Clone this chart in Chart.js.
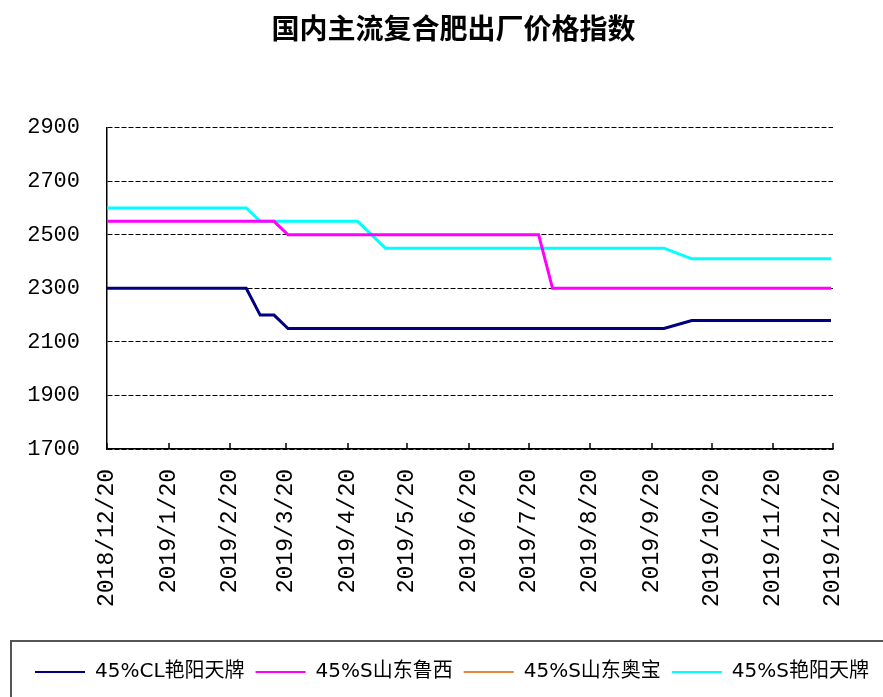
<!DOCTYPE html>
<html lang="zh">
<head>
<meta charset="UTF-8">
<title>国内主流复合肥出厂价格指数</title>
<script src="https://cdn.jsdelivr.net/npm/chart.js"></script>
<style>
    body { margin: 0; background: #fff; }
    .wrap { position: relative; width: 883px; height: 697px; overflow: hidden; }
    .legend-frame { position: absolute; left: 10px; top: 640px; width: 900px; height: 100px; border: 2px solid #555; }
    #priceChart { position: absolute; left: 0; top: 0; }
</style>
</head>
<body>
<div class="wrap">
    <div class="legend-frame"></div>
    <canvas id="priceChart" width="883" height="697"></canvas>
</div>
<script>
    // weekly quotes (holiday weeks missing)
    const dates = [
        '2018-12-20', '2018-12-27', '2019-01-03', '2019-01-10', '2019-01-17', '2019-01-24', '2019-01-31',
        '2019-02-07', '2019-02-14', '2019-02-21', '2019-02-28', '2019-03-07', '2019-03-14', '2019-03-21',
        '2019-03-28', '2019-04-04', '2019-04-11', '2019-04-18', '2019-04-25', '2019-05-09', '2019-05-16',
        '2019-05-23', '2019-05-30', '2019-06-06', '2019-06-13', '2019-06-20', '2019-06-27', '2019-07-04',
        '2019-07-11', '2019-07-18', '2019-07-25', '2019-08-01', '2019-08-08', '2019-08-15', '2019-08-22',
        '2019-08-29', '2019-09-05', '2019-09-12', '2019-09-19', '2019-09-26', '2019-10-10', '2019-10-17',
        '2019-10-24', '2019-10-31', '2019-11-07', '2019-11-14', '2019-11-21', '2019-11-28', '2019-12-05',
        '2019-12-12', '2019-12-19'
    ];

    const clYanyang = [
        2300, 2300, 2300, 2300, 2300, 2300, 2300, 2300, 2300, 2300, 2300,
        2200, 2200,
        2150, 2150, 2150, 2150, 2150, 2150,
        2150, 2150, 2150, 2150, 2150, 2150, 2150, 2150, 2150, 2150, 2150, 2150,
        2150, 2150, 2150, 2150, 2150, 2150, 2150, 2150, 2150,
        2180, 2180, 2180, 2180, 2180, 2180, 2180, 2180, 2180, 2180, 2180
    ];
    const sLuxi = [
        2550, 2550, 2550, 2550, 2550, 2550, 2550, 2550, 2550, 2550, 2550,
        2550, 2550,
        2500, 2500, 2500, 2500, 2500, 2500,
        2500, 2500, 2500, 2500, 2500, 2500, 2500, 2500, 2500, 2500, 2500, 2500,
        2300, 2300, 2300, 2300, 2300, 2300, 2300, 2300, 2300,
        2300, 2300, 2300, 2300, 2300, 2300, 2300, 2300, 2300, 2300, 2300
    ];
    const sAobao = [];   // no quotes shown
    const sYanyang = [
        2600, 2600, 2600, 2600, 2600, 2600, 2600, 2600, 2600, 2600, 2600,
        2550, 2550,
        2550, 2550, 2550, 2550, 2550, 2550,
        2450, 2450, 2450, 2450, 2450, 2450, 2450, 2450, 2450, 2450, 2450, 2450,
        2450, 2450, 2450, 2450, 2450, 2450, 2450, 2450, 2450,
        2410, 2410, 2410, 2410, 2410, 2410, 2410, 2410, 2410, 2410, 2410
    ];

    const tickLabels = [
        '2018/12/20', '2019/1/20', '2019/2/20', '2019/3/20', '2019/4/20', '2019/5/20', '2019/6/20',
        '2019/7/20', '2019/8/20', '2019/9/20', '2019/10/20', '2019/11/20', '2019/12/20'
    ];
    const yTicks = [1700, 1900, 2100, 2300, 2500, 2700, 2900];

    // day offset from the first date
    const start = Date.UTC(2018, 11, 20);
    function toDay(s) {
        const p = s.split(/[-\/]/).map(Number);
        return (Date.UTC(p[0], p[1] - 1, p[2]) - start) / 86400000;
    }
    const tickDays = tickLabels.map(toDay);

    function series(values) {
        return values.map((v, i) => ({ x: toDay(dates[i]), y: v }));
    }

    const monoFont = '"Liberation Mono", "DejaVu Sans Mono", monospace';
    const cjkFont = '"DejaVu Sans", "Noto Sans CJK SC", sans-serif';

    // short inner tick marks on the x axis
    const innerTicks = {
        id: 'innerTicks',
        afterDraw(chart) {
            const ctx = chart.ctx;
            const x = chart.scales.x;
            const bottom = chart.chartArea.bottom;
            ctx.save();
            ctx.strokeStyle = '#000';
            ctx.lineWidth = 1.5;
            tickDays.forEach(d => {
                const px = Math.round(x.getPixelForValue(d));
                ctx.beginPath();
                ctx.moveTo(px, bottom);
                ctx.lineTo(px, bottom - 6);
                ctx.stroke();
            });
            ctx.restore();
        }
    };

    new Chart(document.getElementById('priceChart'), {
        type: 'line',
        data: {
            datasets: [
                { label: '45%CL艳阳天牌', data: series(clYanyang), borderColor: '#000080', backgroundColor: '#000080' },
                { label: '45%S山东鲁西', data: series(sLuxi), borderColor: '#FF00FF', backgroundColor: '#FF00FF' },
                { label: '45%S山东奥宝', data: series(sAobao), borderColor: '#E8843C', backgroundColor: '#E8843C' },
                { label: '45%S艳阳天牌', data: series(sYanyang), borderColor: '#00FFFF', backgroundColor: '#00FFFF' }
            ]
        },
        options: {
            responsive: false,
            animation: false,
            layout: { padding: { left: 24, right: 0, top: 0, bottom: 5 } },
            elements: {
                line: { borderWidth: 3, tension: 0 },
                point: { radius: 0 }
            },
            plugins: {
                title: {
                    display: true,
                    text: '国内主流复合肥出厂价格指数',
                    color: '#000',
                    font: { family: '"Noto Sans CJK SC", sans-serif', size: 28, weight: 'bold' },
                    padding: { top: 12, bottom: 82 }
                },
                legend: {
                    position: 'bottom',
                    align: 'start',
                    labels: {
                        color: '#000',
                        font: { family: cjkFont, size: 20 },
                        usePointStyle: true,
                        pointStyle: 'line',
                        pointStyleWidth: 50,
                        padding: 11,
                        generateLabels: chart => Chart.defaults.plugins.legend.labels.generateLabels(chart)
                            .map(item => Object.assign(item, { lineWidth: 2 }))
                    }
                },
                tooltip: { enabled: false }
            },
            scales: {
                x: {
                    type: 'linear',
                    min: 0,
                    max: 365,
                    afterBuildTicks: scale => { scale.ticks = tickDays.map(v => ({ value: v })); },
                    afterFit: scale => { scale.height = 202; },
                    grid: { display: false, drawTicks: false },
                    border: { display: true, color: '#000', width: 1.5 },
                    ticks: {
                        color: '#000',
                        font: { family: monoFont, size: 23 },
                        minRotation: 90,
                        maxRotation: 90,
                        padding: 20,
                        autoSkip: false,
                        callback: (v, i) => tickLabels[i]
                    }
                },
                y: {
                    min: 1700,
                    max: 2900,
                    afterBuildTicks: scale => { scale.ticks = yTicks.map(v => ({ value: v })); },
                    afterFit: scale => { scale.width = 83; },
                    grid: { color: '#000', lineWidth: 1, drawTicks: false },
                    border: { display: true, color: '#000', width: 1.5, dash: [5, 2] },
                    ticks: {
                        color: '#000',
                        font: { family: monoFont, size: 22 },
                        padding: 27,
                        callback: v => String(v)
                    }
                },
                y2: {
                    position: 'right',
                    display: true,
                    afterFit: scale => { scale.width = 50; },
                    grid: { display: false, drawTicks: false },
                    border: { display: false },
                    ticks: { display: false }
                }
            }
        },
        plugins: [innerTicks]
    });
</script>
</body>
</html>
